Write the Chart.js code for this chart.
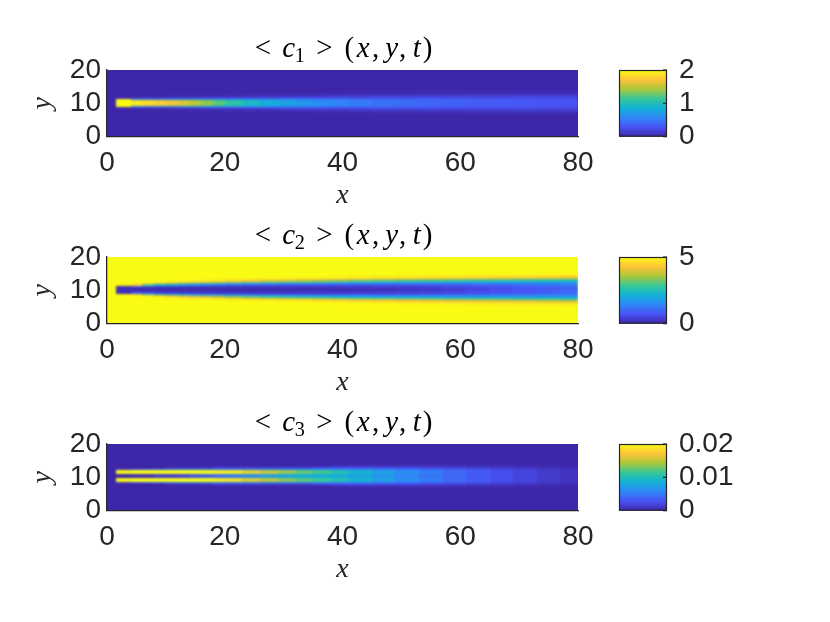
<!DOCTYPE html>
<html><head><meta charset="utf-8">
<script src="https://cdn.jsdelivr.net/npm/chart.js@4.4.1/dist/chart.umd.min.js"></script>
<style>
html,body{margin:0;padding:0;background:#fff;width:830px;height:622px;overflow:hidden}
.p{position:absolute;left:0;width:830px;height:215px}
</style></head><body>
<div class="p" style="top:0px"><canvas id="c1"></canvas></div>
<div class="p" style="top:187px"><canvas id="c2"></canvas></div>
<div class="p" style="top:374px"><canvas id="c3"></canvas></div>
<script>
// ---------- tick labels ----------
const xTickValues = [0, 20, 40, 60, 80];
const yTickValues = [0, 10, 20];
const c1Ticks = [0, 1, 2];
const c2Ticks = [0, 5];
const c3Ticks = [0, 0.01, 0.02];

// ---------- grid: column edges along x (shared) ----------
const colEdges = [1.5,4,6,8,10,12,14,16,18,20,23,26,29,32,35,38,41,45,49,53,57,61,65,69,73,77,80];

// ---------- <c1>: centre line, distance bins |y - centre|, background, values per column ----------
const c1Center = 10.1;
const c1Offsets = [0,0.4,0.8,1.2,1.6,2.0,2.5,3.0,4.0];
const c1Background = 0;
const c1Cols = [
 [2.2,2.2,2.2,0.05,0,0,0,0],
 [1.95,1.85,0.7,0.15,0.02,0,0,0],
 [1.88,1.78,0.7,0.17,0.03,0,0,0],
 [1.8,1.7,0.7,0.19,0.04,0,0,0],
 [1.72,1.62,0.72,0.21,0.05,0.01,0,0],
 [1.63,1.54,0.74,0.23,0.06,0.01,0,0],
 [1.53,1.45,0.75,0.25,0.07,0.02,0,0],
 [1.4,1.33,0.75,0.27,0.08,0.02,0,0],
 [1.26,1.2,0.74,0.29,0.09,0.03,0,0],
 [1.1,1.05,0.72,0.31,0.1,0.03,0.01,0],
 [0.96,0.92,0.68,0.33,0.12,0.04,0.01,0],
 [0.85,0.82,0.64,0.34,0.13,0.05,0.01,0],
 [0.76,0.74,0.6,0.35,0.15,0.06,0.02,0],
 [0.68,0.66,0.56,0.35,0.16,0.07,0.02,0],
 [0.62,0.6,0.52,0.35,0.17,0.08,0.03,0],
 [0.56,0.55,0.48,0.34,0.18,0.09,0.03,0],
 [0.51,0.5,0.44,0.33,0.19,0.1,0.04,0.01],
 [0.47,0.46,0.41,0.32,0.2,0.11,0.05,0.01],
 [0.43,0.42,0.38,0.31,0.2,0.12,0.05,0.01],
 [0.4,0.39,0.36,0.3,0.2,0.12,0.06,0.02],
 [0.37,0.36,0.34,0.29,0.2,0.13,0.06,0.02],
 [0.35,0.34,0.32,0.28,0.2,0.13,0.07,0.02],
 [0.33,0.32,0.31,0.27,0.2,0.13,0.07,0.03],
 [0.31,0.31,0.3,0.26,0.2,0.14,0.08,0.03],
 [0.3,0.3,0.29,0.25,0.2,0.14,0.08,0.03],
 [0.29,0.29,0.28,0.25,0.2,0.14,0.08,0.03]
];

// ---------- <c2> ----------
const c2Center = 10.25;
const c2Offsets = [0,0.4,0.8,1.2,1.6,2.0,2.4,2.8,3.2,3.6,4.0,4.5,5.0];
const c2Background = 5;
const c2Cols = [
 [0.15,0.15,0.15,4.8,5,5,5,5,5,5,5,5],
 [0.1,0.15,1.0,4.3,4.95,5,5,5,5,5,5,5],
 [0.1,0.15,0.8,3.0,4.6,4.97,5,5,5,5,5,5],
 [0.1,0.15,0.5,2.3,4.0,4.85,5,5,5,5,5,5],
 [0.1,0.15,0.5,2.0,3.5,4.55,4.95,5,5,5,5,5],
 [0.1,0.15,0.45,1.7,3.1,4.35,4.9,5,5,5,5,5],
 [0.1,0.15,0.4,1.5,2.8,4.2,4.8,4.98,5,5,5,5],
 [0.1,0.15,0.38,1.3,2.6,4.0,4.7,4.95,5,5,5,5],
 [0.1,0.15,0.35,1.15,2.4,3.8,4.55,4.92,5,5,5,5],
 [0.1,0.15,0.32,1.0,2.1,3.4,4.4,4.85,4.98,5,5,5],
 [0.1,0.15,0.3,0.9,1.95,3.1,4.2,4.7,4.95,5,5,5],
 [0.1,0.15,0.3,0.85,1.8,2.9,3.95,4.6,4.9,4.98,5,5],
 [0.12,0.17,0.3,0.8,1.7,2.65,3.8,4.5,4.85,4.97,5,5],
 [0.12,0.18,0.32,0.78,1.6,2.5,3.6,4.35,4.8,4.95,5,5],
 [0.14,0.2,0.33,0.76,1.55,2.35,3.45,4.25,4.7,4.93,5,5],
 [0.15,0.22,0.35,0.75,1.5,2.2,3.3,4.15,4.6,4.9,4.98,5],
 [0.17,0.24,0.37,0.74,1.45,2.1,3.1,4.0,4.5,4.85,4.97,5],
 [0.2,0.27,0.4,0.75,1.4,2.0,2.95,3.85,4.4,4.8,4.95,5],
 [0.25,0.31,0.44,0.77,1.38,1.95,2.8,3.7,4.3,4.75,4.93,4.99],
 [0.32,0.37,0.5,0.8,1.37,1.9,2.7,3.55,4.2,4.7,4.9,4.98],
 [0.42,0.47,0.58,0.86,1.37,1.85,2.6,3.45,4.1,4.6,4.88,4.97],
 [0.52,0.57,0.67,0.92,1.4,1.85,2.5,3.35,4.05,4.55,4.85,4.96],
 [0.62,0.67,0.76,0.98,1.42,1.85,2.45,3.25,3.95,4.5,4.82,4.95],
 [0.72,0.77,0.85,1.05,1.45,1.85,2.4,3.15,3.9,4.45,4.8,4.94],
 [0.83,0.87,0.95,1.12,1.48,1.85,2.35,3.05,3.8,4.4,4.78,4.93],
 [0.95,0.98,1.05,1.2,1.5,1.85,2.3,2.95,3.7,4.3,4.75,4.92]
];

// ---------- <c3> ----------
const c3Center = 10.4;
const c3Offsets = [0,0.35,0.7,1.05,1.4,1.75,2.1,2.6,3.2];
const c3Background = 0;
const c3Cols = [
 [0,0,0.03,0.03,0.03,0.001,0,0],
 [0,0.001,0.03,0.03,0.028,0.003,0,0],
 [0,0.001,0.03,0.03,0.027,0.004,0,0],
 [0.001,0.002,0.029,0.03,0.026,0.005,0,0],
 [0.001,0.002,0.027,0.029,0.024,0.005,0.001,0],
 [0.001,0.003,0.025,0.028,0.023,0.006,0.001,0],
 [0.002,0.004,0.023,0.026,0.021,0.006,0.001,0],
 [0.002,0.005,0.021,0.024,0.019,0.007,0.001,0],
 [0.003,0.006,0.019,0.022,0.018,0.007,0.002,0],
 [0.004,0.007,0.018,0.02,0.017,0.007,0.002,0],
 [0.005,0.008,0.016,0.018,0.015,0.007,0.002,0],
 [0.006,0.009,0.015,0.016,0.014,0.007,0.002,0],
 [0.007,0.009,0.013,0.015,0.013,0.007,0.002,0],
 [0.008,0.009,0.012,0.013,0.012,0.007,0.002,0],
 [0.008,0.009,0.011,0.012,0.011,0.007,0.003,0],
 [0.008,0.0085,0.01,0.0105,0.0095,0.0065,0.003,0.0005],
 [0.0075,0.008,0.0088,0.009,0.0085,0.006,0.003,0.0008],
 [0.0066,0.0068,0.0074,0.0075,0.0072,0.0055,0.003,0.0008],
 [0.0056,0.0058,0.0062,0.0062,0.006,0.0048,0.0028,0.0008],
 [0.0047,0.0048,0.0051,0.0051,0.005,0.0041,0.0025,0.0008],
 [0.0039,0.004,0.0042,0.0042,0.0041,0.0034,0.0021,0.0007],
 [0.0032,0.0032,0.0034,0.0034,0.0033,0.0028,0.0018,0.0006],
 [0.0025,0.0025,0.0026,0.0026,0.0025,0.0021,0.0014,0.0005],
 [0.0019,0.0019,0.002,0.002,0.0019,0.0016,0.001,0.0004],
 [0.0013,0.0013,0.0014,0.0014,0.0013,0.0011,0.0007,0.0002],
 [0.0009,0.0009,0.001,0.001,0.0009,0.0007,0.0005,0.0001]
];

// ---------- colormap (parula) ----------
const parulaStops = [[62,38,168],[72,82,244],[46,135,247],[18,177,214],[55,200,151],[171,199,57],[254,195,56],[249,251,20]];
function parula(t) {
  t = Math.max(0, Math.min(1, t));
  const n = parulaStops.length - 1;
  const f = t * n, i = Math.min(n - 1, Math.floor(f)), u = f - i;
  const a = parulaStops[i], b = parulaStops[i + 1];
  return 'rgb(' + [0,1,2].map(k => Math.round(a[k] + (b[k] - a[k]) * u)).join(',') + ')';
}

const TICK_FONT = {family: "'Liberation Sans', Arial, Helvetica, sans-serif", size: 28};
const SERIF = "'Liberation Serif', 'Times New Roman', serif";
const INK = '#262626';

function heatPlugin(p) {
  return {
    id: 'heat',
    beforeDraw(chart) {
      const {ctx, chartArea: a, scales: {x, y}} = chart;
      const dpr = chart.currentDevicePixelRatio || 1;
      // cells are painted on a layer, then composited with a light softening
      const off = document.createElement('canvas');
      off.width = chart.canvas.width; off.height = chart.canvas.height;
      const o = off.getContext('2d');
      o.setTransform(dpr, 0, 0, dpr, 0, 0);
      for (let i = 0; i < colEdges.length - 1; i++) {
        const px0 = Math.round(x.getPixelForValue(colEdges[i]));
        const px1 = Math.round(x.getPixelForValue(colEdges[i + 1]));
        const col = p.cols[i];
        for (let j = 0; j < col.length; j++) {
          const o0 = p.offsets[j], o1 = p.offsets[j + 1];
          o.fillStyle = parula(col[j] / p.max);
          let ya = Math.round(y.getPixelForValue(p.center + o1));
          let yb = Math.round(y.getPixelForValue(p.center + o0));
          o.fillRect(px0, ya, px1 - px0, yb - ya);
          ya = Math.round(y.getPixelForValue(p.center - o0));
          yb = Math.round(y.getPixelForValue(p.center - o1));
          o.fillRect(px0, ya, px1 - px0, yb - ya);
        }
      }
      ctx.save();
      ctx.beginPath(); ctx.rect(a.left, a.top, a.right - a.left, a.bottom - a.top); ctx.clip();
      ctx.fillStyle = parula(p.background / p.max);
      ctx.fillRect(a.left, a.top, a.right - a.left, a.bottom - a.top);
      ctx.filter = 'blur(1px)';
      ctx.drawImage(off, 0, 0, chart.width, chart.height);
      ctx.filter = 'none';
      ctx.restore();
    },
    afterDraw(chart) {
      const {ctx, chartArea: a} = chart;
      const cb = chart.scales.cb;
      // colorbar
      const x0 = Math.round(a.right + 41), x1 = Math.round(a.right + 89);
      const top = cb.getPixelForValue(p.max), bot = cb.getPixelForValue(0);
      const g = ctx.createLinearGradient(0, bot, 0, top);
      parulaStops.forEach((c, k) => g.addColorStop(k / (parulaStops.length - 1), 'rgb(' + c.join(',') + ')'));
      ctx.save();
      ctx.fillStyle = g;
      ctx.fillRect(x0, top, x1 - x0, bot - top);
      ctx.strokeStyle = INK; ctx.lineWidth = 1.2;
      ctx.strokeRect(x0 + 0.5, top + 0.5, x1 - x0 - 1, bot - top - 1);
      p.ticks.forEach(v => {
        const py = cb.getPixelForValue(v);
        ctx.beginPath(); ctx.moveTo(x1, py); ctx.lineTo(x1 - 4, py); ctx.stroke();
      });
      // math title  < c_k > (x, y, t)
      const fs = 29;
      const parts = [
        {t:'<', w:0.778}, {gap:0.278}, {t:'c', w:0.433, it:true}, {t:p.sub, w:0.5, sub:true},
        {gap:0.278}, {t:'>', w:0.778}, {gap:0.278}, {t:'(', w:0.389}, {t:'x', w:0.572, it:true},
        {t:',', w:0.278}, {gap:0.167}, {t:'y', w:0.49, it:true}, {t:',', w:0.278}, {gap:0.167},
        {t:'t', w:0.361, it:true}, {t:')', w:0.389}
      ];
      const adv = q => q.gap ? q.gap * fs : q.w * fs * (q.sub ? 0.7 : 1);
      const total = parts.reduce((s, q) => s + adv(q), 0);
      let cx = (a.left + a.right) / 2 - total / 2;
      const base = a.top - 13;
      ctx.fillStyle = '#000';
      ctx.textBaseline = 'alphabetic';
      ctx.textAlign = 'center';
      parts.forEach(q => {
        const w = adv(q);
        if (q.t) {
          const size = q.sub ? fs * 0.7 : fs;
          ctx.font = (q.it ? 'italic ' : '') + size + 'px ' + SERIF;
          ctx.fillText(q.t, cx + w / 2, base + (q.sub ? fs * 0.16 : 0));
        }
        cx += w;
      });
      ctx.restore();
    }
  };
}

function makeChart(id, p) {
  const ticksFrom = arr => s => { s.ticks = arr.map(v => ({value: v})); };
  return new Chart(document.getElementById(id), {
    type: 'scatter',
    data: {datasets: [{data: [], pointRadius: 0}]},
    options: {
      responsive: true, maintainAspectRatio: false, animation: false,
      layout: {padding: {top: 70, left: 0, right: 0, bottom: 0}},
      plugins: {legend: {display: false}, tooltip: {enabled: false}, title: {display: false}},
      scales: {
        x: {
          type: 'linear', position: 'bottom', min: 0, max: 80,
          afterBuildTicks: ticksFrom(xTickValues),
          afterFit: s => { s.height = 78.3; },
          grid: {display: false, drawTicks: false},
          border: {display: true, color: INK, width: 1.3},
          ticks: {font: TICK_FONT, color: INK, padding: 9.5, maxRotation: 0, autoSkip: false, callback: v => String(v)},
          title: {display: true, text: 'x', color: INK, font: {family: SERIF, style: 'italic', size: 28}, padding: {top: 0, bottom: 3}}
        },
        y: {
          type: 'linear', position: 'left', min: 0, max: 20,
          afterBuildTicks: ticksFrom(yTickValues),
          afterFit: s => { s.width = 107; },
          grid: {display: false, drawTicks: false},
          border: {display: true, color: INK, width: 1.3},
          ticks: {font: TICK_FONT, color: INK, padding: 6, autoSkip: false, callback: v => String(v)},
          title: {display: true, text: 'y', color: INK, font: {family: SERIF, style: 'italic', size: 28}, padding: {top: 26, bottom: 0}}
        },
        cb: {
          type: 'linear', position: 'right', min: 0, max: p.max,
          afterBuildTicks: ticksFrom(p.ticks),
          afterFit: s => { s.width = 252; },
          grid: {display: false, drawTicks: true, tickLength: 101},
          border: {display: false},
          ticks: {font: TICK_FONT, color: INK, padding: 0, autoSkip: false, callback: v => String(v)}
        }
      }
    },
    plugins: [heatPlugin(p)]
  });
}

makeChart('c1', {sub: '1', max: 2, ticks: c1Ticks, center: c1Center, offsets: c1Offsets, background: c1Background, cols: c1Cols});
makeChart('c2', {sub: '2', max: 5, ticks: c2Ticks, center: c2Center, offsets: c2Offsets, background: c2Background, cols: c2Cols});
makeChart('c3', {sub: '3', max: 0.02, ticks: c3Ticks, center: c3Center, offsets: c3Offsets, background: c3Background, cols: c3Cols});
</script>
</body></html>
